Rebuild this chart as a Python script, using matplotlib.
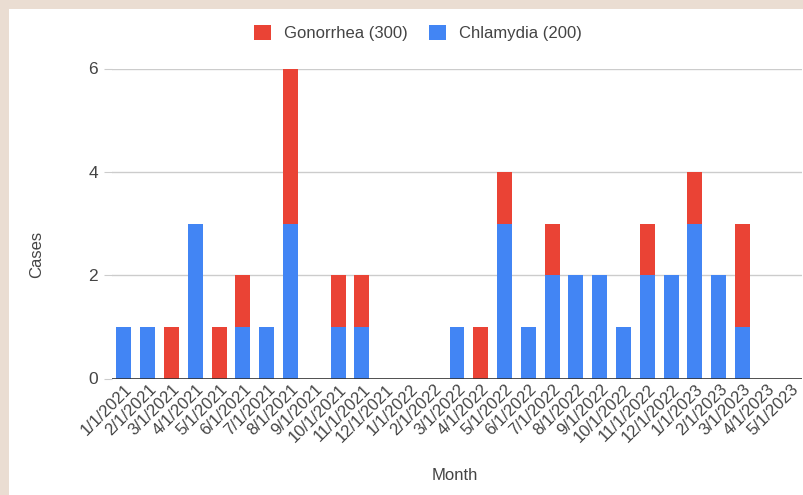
import matplotlib
matplotlib.use("Agg")
import matplotlib.pyplot as plt
import matplotlib.transforms as mtransforms
from matplotlib.patches import Rectangle

months = [
    "1/1/2021", "2/1/2021", "3/1/2021", "4/1/2021", "5/1/2021", "6/1/2021",
    "7/1/2021", "8/1/2021", "9/1/2021", "10/1/2021", "11/1/2021", "12/1/2021",
    "1/1/2022", "2/1/2022", "3/1/2022", "4/1/2022", "5/1/2022", "6/1/2022",
    "7/1/2022", "8/1/2022", "9/1/2022", "10/1/2022", "11/1/2022", "12/1/2022",
    "1/1/2023", "2/1/2023", "3/1/2023", "4/1/2023", "5/1/2023",
]
chlamydia = [1, 1, 0, 3, 0, 1, 1, 3, 0, 1, 1, 0, 0, 0, 1, 0, 3, 1, 2, 2, 2, 1, 2, 2, 3, 2, 1, 0, 0]
gonorrhea = [0, 0, 1, 0, 1, 1, 0, 3, 0, 1, 1, 0, 0, 0, 0, 1, 1, 0, 1, 0, 0, 0, 1, 0, 1, 0, 2, 0, 0]

BLUE = "#4285F4"
RED = "#EA4335"
TXT = "#444444"

plt.rcParams["font.family"] = ["Liberation Sans", "DejaVu Sans"]
plt.rcParams["font.size"] = 12

W, H = 804, 495
fig = plt.figure(figsize=(W / 100, H / 100), dpi=100)
fig.patch.set_facecolor("#EADDD2")
# white card behind everything
fig.patches.append(Rectangle((9 / W, 0), 1, (H - 9) / H, transform=fig.transFigure,
                             facecolor="white", edgecolor="none", zorder=-5))

ax = fig.add_axes([112 / W, (H - 378.5) / H, 690 / W, 310 / H])
ax.set_facecolor("none")

x = list(range(len(months)))
ax.bar(x, chlamydia, width=0.63, color=BLUE, label="Chlamydia (200)", zorder=3)
ax.bar(x, gonorrhea, width=0.63, bottom=chlamydia, color=RED, label="Gonorrhea (300)", zorder=3)

ax.set_xlim(-0.5, len(months) - 0.5)
ax.set_ylim(0, 6)
ax.set_yticks([0, 2, 4, 6])
ax.grid(axis="y", color="#cccccc", linewidth=1, zorder=0)
ax.axhline(0, color="#333333", linewidth=1.2, zorder=4)

for s in ax.spines.values():
    s.set_visible(False)

ax.tick_params(axis="y", length=6, color="#cccccc", labelcolor=TXT, pad=4, labelsize=12.5)
ax.tick_params(axis="x", length=0, pad=6, labelcolor=TXT, labelsize=12)
ax.set_xticks(x)
ax.set_xticklabels(months, rotation=45, ha="right", va="center", rotation_mode="anchor")
shift = mtransforms.ScaledTranslation(6 / 100, 0, fig.dpi_scale_trans)
for lbl in ax.get_xticklabels():
    lbl.set_transform(lbl.get_transform() + shift)

ax.set_ylabel("Cases", color=TXT, fontsize=12)
ax.yaxis.set_label_coords(-0.099, 0.40)
ax.set_xlabel("Month", color=TXT, fontsize=12)
ax.xaxis.set_label_coords(0.497, -0.29)

handles, labels = ax.get_legend_handles_labels()
fig.legend(handles[::-1], labels[::-1], loc="center", bbox_to_anchor=(0.52, 0.933),
           ncol=2, frameon=False, handlelength=1.0, handleheight=1.0,
           columnspacing=1.3, handletextpad=0.8, fontsize=12, labelcolor=TXT)

fig.savefig("out.png", dpi=100)
